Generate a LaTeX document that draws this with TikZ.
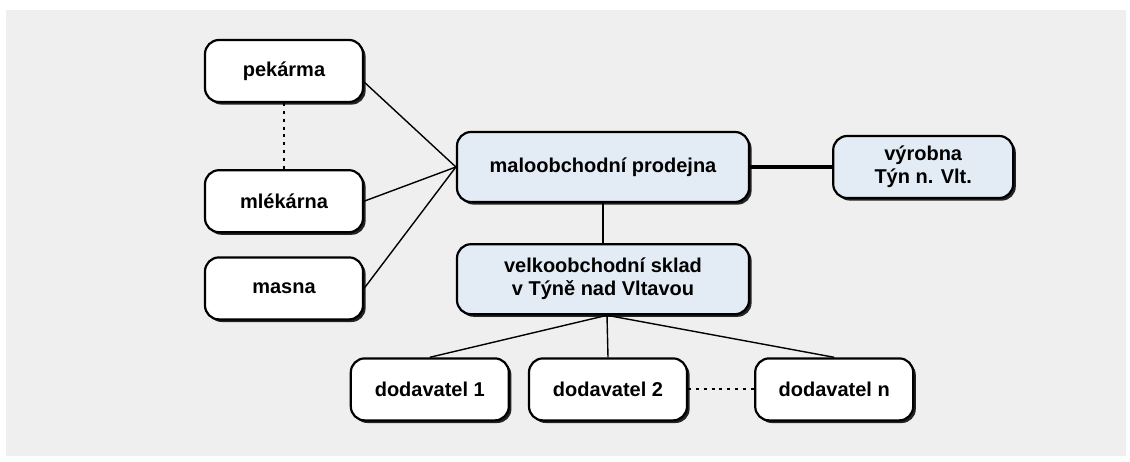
\documentclass[tikz,border=0pt]{standalone}
\usepackage{fontspec}
\setmainfont{Liberation Sans}
\usepackage{tikz}
\usepackage{xcolor}
\usetikzlibrary{shapes,arrows,positioning,shadows}

\definecolor{boxblue}{HTML}{E3EBF4}
\definecolor{paper}{HTML}{EFEFEF}

\begin{document}
\begin{tikzpicture}[x=0.5pt,y=-0.5pt,
    box/.style={rectangle,rounded corners=7pt,draw,line width=1.1pt,fill=white,
        font=\fontsize{10}{11.5}\selectfont\bfseries,align=center,
        minimum width=79pt,minimum height=31pt,inner sep=2pt,
        drop shadow={shadow xshift=1.3pt,shadow yshift=-1.3pt,fill=black,opacity=0.85}},
    bluebox/.style={box,fill=boxblue},
    link/.style={line width=0.7pt},
    dots/.style={line width=1pt,dash pattern=on 1.5pt off 2.4pt}]
        \useasboundingbox (0,0) rectangle (1130,461);
        \fill[paper] (6,10) rectangle (1126,456);
        % shop in the middle
        \node[bluebox,minimum width=146pt,minimum height=35pt] (malo) at (603,167) {maloobchodní prodejna};
        \node[bluebox,minimum width=90pt,right=41pt of malo] (vyr) {výrobna\\Týn n. Vlt.};
        \node[bluebox,minimum width=146pt,minimum height=35pt,below=20pt of malo] (velko) {velkoobchodní sklad\\v Týně nad Vltavou};
        % local producers
        \node[box] (pek) at (284,71) {pekárma};
        \node[box,below=33pt of pek] (mle) {mlékárna};
        \node[box,below=11.5pt of mle] (mas) {masna};
        % suppliers
        \node[box,below=21pt of velko,xshift=2.5pt] (dod2) {dodavatel 2};
        \node[box,left=9pt of dod2] (dod1) {dodavatel 1};
        \node[box,right=33pt of dod2] (dodn) {dodavatel n};
        \draw[link] ([yshift=-5.5pt]pek.east) -- (malo.west);
        \draw[link] (mle.east) -- (malo.west);
        \draw[link] (mas.east) -- (malo.west);
        \draw[dots] (pek) -- (mle);
        \draw[line width=2pt] (malo) -- (vyr);
        \draw[line width=1pt] (malo) -- (velko);
        \draw[link] ([xshift=2pt]velko.south) -- (dod1.north);
        \draw[link] ([xshift=2pt]velko.south) -- (dod2.north);
        \draw[link] ([xshift=2pt]velko.south) -- (dodn.north);
        \draw[dots] (dod2) -- (dodn);
    \end{tikzpicture}
\end{document}
